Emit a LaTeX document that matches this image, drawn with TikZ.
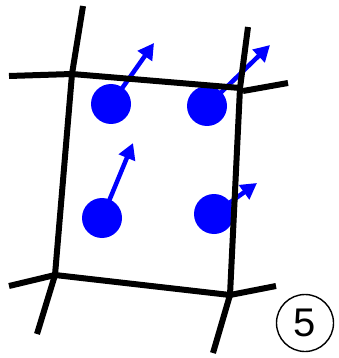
\documentclass[tikz,border=0pt]{standalone}
\usepackage{fontspec}
\setmainfont{Liberation Sans}
\usetikzlibrary{arrows.meta}
\begin{document}
\begin{tikzpicture}[x=1pt,y=-1pt,
  edge/.style={line width=6pt,black},
  dot/.style={circle,fill=blue,inner sep=0pt,minimum size=40pt},
  vec/.style={blue,line width=4.5pt,-{Triangle[length=16pt,width=17pt]}},
  tag/.style={circle,draw,line width=1.4pt,minimum size=57pt,inner sep=0pt,font=\fontsize{40}{40}\selectfont}]
\useasboundingbox (0,0) rectangle (339,358);
% junctions
\coordinate (tl) at (72,74);
\coordinate (tr) at (240,88);
\coordinate (bl) at (55,275);
\coordinate (br) at (230,295);
% free ends
\coordinate (tlu) at (83,6);
\coordinate (tll) at (9,76);
\coordinate (tru) at (248,27);
\coordinate (trr) at (288,83);
\coordinate (trs) at (243,91);
\coordinate (bll) at (9,286);
\coordinate (bld) at (37,334);
\coordinate (brr) at (276,286);
\coordinate (brd) at (213,353);
% dots and arrows
\node[dot] (d1) at (111,104) {};
\node[dot] (d2) at (207,106) {};
\node[dot] (d3) at (102,218) {};
\node[dot] (d4) at (214,214) {};
\coordinate (a1) at (154,43);
\coordinate (a2) at (270,45);
\coordinate (a3) at (133,143);
\coordinate (a4) at (257,183);
\draw[vec] (d1.center) -- (a1);
\draw[vec] (d2.center) -- (a2);
\draw[vec] (d3.center) -- (a3);
\draw[vec] (d4.center) -- (a4);
% black lines
\draw[edge] (tlu) -- (tl) -- (bl) -- (bld);
\draw[edge] (tll) -- (tl) -- (tr);
\draw[edge] (trs) -- (trr);
\draw[edge] (tru) -- (tr) -- (br) -- (brd);
\draw[edge] (bll) -- (bl) -- (br) -- (brr);
% label
\node[tag] (n5) at (305,323) {5};
\end{tikzpicture}
\end{document}
